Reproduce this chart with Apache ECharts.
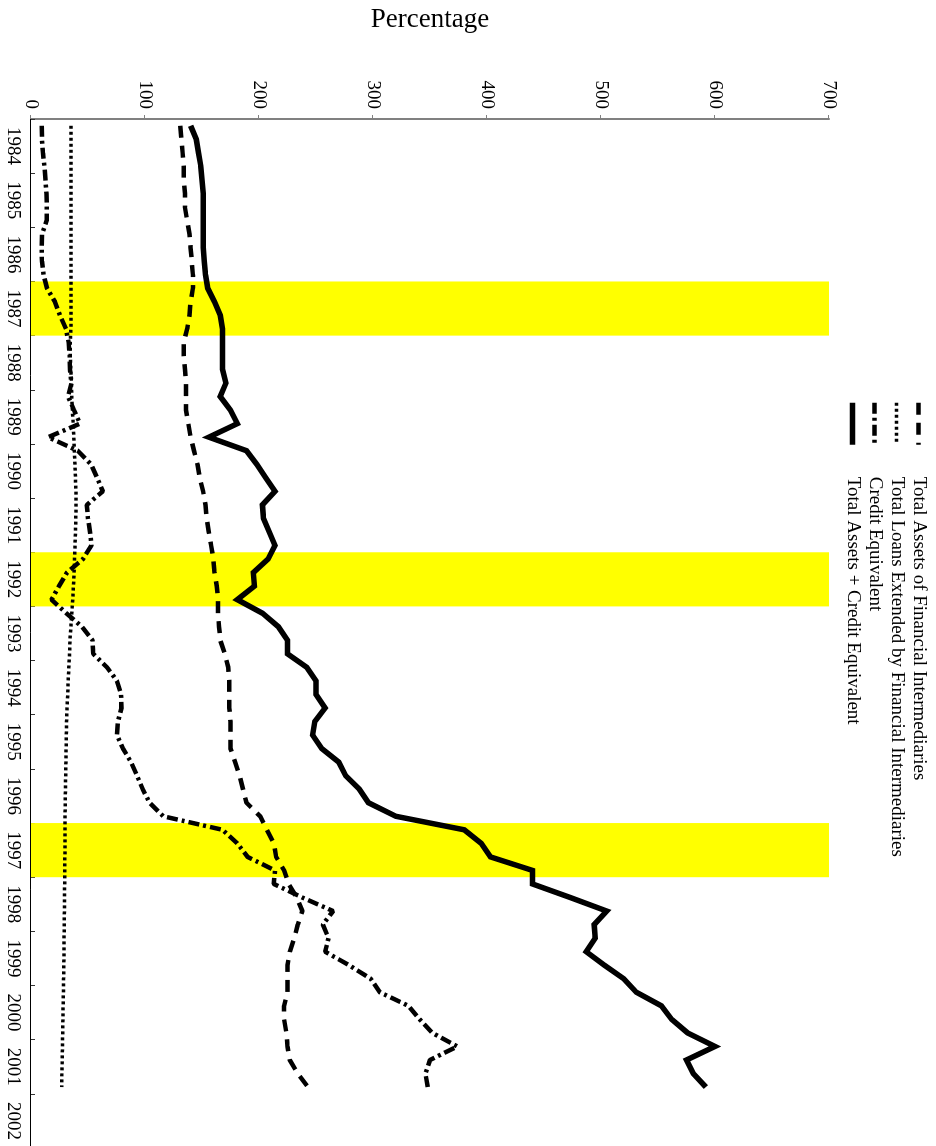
<!DOCTYPE html>
<html>
<head>
<meta charset="utf-8">
<script src="https://cdn.jsdelivr.net/npm/echarts@6/dist/echarts.min.js"></script>
<style>
html,body{margin:0;padding:0;background:#fff;overflow:hidden;width:936px;height:1146px;}
#wrap{position:absolute;left:0;top:0;width:1146px;height:936px;transform-origin:0 0;transform:translate(936px,0) rotate(90deg);}
</style>
</head>
<body>
<div id="wrap"></div>
<script>
// ---- data (quarterly, 1984Q1 .. 2001Q4) ----
const years = ['1984','1985','1986','1987','1988','1989','1990','1991','1992','1993','1994','1995','1996','1997','1998','1999','2000','2001','2002'];
const quarterNames = ['Q1','Q2','Q3','Q4'];
const crisisYears = ['1987','1992','1997'];
const valueTicks = [0,100,200,300,400,500,600,700];

const totalAssets = [
 131,132,133,134,134,135,135,137,139,140,141,142,
 142,140,139,137,134,134,135,136,136,136,138,140,
 143,146,148,151,153,154,156,158,160,161,163,164,
 164,165,166,170,173,174,174,174,175,175,175,179,
 183,186,189,201,207,213,215,222,226,233,238,234,
 231,227,225,225,225,222,222,224,225,227,234,243];

const totalLoans = [
 35,35,35,35,35,35,35,35,35,35,35,35,
 35,35,35,35,34.5,34.5,35,35.5,35.7,36.3,37,37.5,
 38,38.6,39,39.4,39.5,39.3,39,38.6,38.2,37.8,37.2,36.6,
 35.8,35,34.2,33.8,33.2,32.6,32.2,31.6,31.2,31,30.8,30.6,
 30.4,30.2,30,29.9,29.8,29.8,29.7,29.6,29.5,29.4,29.3,29.2,
 29,28.9,28.8,28.6,28.4,28.2,28,27.8,27.6,27.4,27.1,26.9];

const creditEquivalent = [
 9.4,9.6,10.5,11.8,12.7,13.6,13.8,13.8,9.6,9.4,9.6,11,
 14,21,25.4,30.7,33,34,34.2,35.5,32.5,37.7,43,15,
 41,52.6,58,63,49,50,51.8,53,45.6,31.6,24.6,18,
 31,44.7,54,54.6,66.7,75.4,79,79.4,76.3,75.4,80.7,87.7,
 93,98,104,116,168,181,190,214,213,238,265,256,
 261,258,279,298,306,331,341,352,374,350,346,348];

const totalPlusCredit = [
 140,145,147,149,150,151,151,151,151,151,152,153,
 155,161,166,168,168,168,168,171,166,175,181,156,
 189,198,206,214,203,204,209,214,208,195,196,181,
 203,217,225,225,242,250,250,258,249,247,255,270,
 276,288,296,320,380,395,403,440,440,473,505,494,
 495,487,503,520,531,553,562,576,600,575,581,592];

const seriesNames = [
 'Total Assets of Financial Intermediaries',
 'Total Loans Extended by Financial Intermediaries',
 'Credit Equivalent',
 'Total Assets + Credit Equivalent'];

// ---- derived ----
const quarters = [];
years.forEach(y => quarterNames.forEach(q => quarters.push(y + q)));
const bandData = years.map(y => crisisYears.indexOf(y) >= 0 ? valueTicks[valueTicks.length-1] : null);

const FONT = 'Liberation Serif';
const chart = echarts.init(document.getElementById('wrap'), null, {renderer:'canvas'});

function lineSeries(name, data, style, z){
  return {
    name, type:'line', xAxisIndex:1, yAxisIndex:0, data,
    symbol:'none', smooth:false, z,
    itemStyle:{color:'#000'},
    lineStyle: Object.assign({color:'#000', cap:'butt'}, style)
  };
}

chart.setOption({
  animation:false,
  backgroundColor:'#fff',
  grid:{left:119, top:107, width:1029, height:798, containLabel:false, outerBoundsMode:'none'},
  legend:{
    orient:'vertical', left:395, top:3,
    data:seriesNames,
    itemWidth:42, itemHeight:21, itemGap:3,
    itemStyle:{opacity:0},
    lineStyle:{width:'inherit'},
    textStyle:{fontFamily:FONT, fontSize:19, color:'#000', padding:[0,0,0,27]}
  },
  xAxis:[
    {type:'category', data:years, boundaryGap:true, position:'bottom',
     axisLine:{show:true, lineStyle:{color:'#000', width:1}},
     axisTick:{show:true, inside:true, length:4, lineStyle:{color:'#333'}},
     axisLabel:{fontFamily:FONT, fontSize:19, color:'#000', margin:9, interval:0},
     splitLine:{show:false}},
    {type:'category', data:quarters, boundaryGap:true, show:false}
  ],
  yAxis:[{
    type:'value', min:0, max:700, interval:100,
    name:'Percentage', nameLocation:'middle', nameGap:86,
    nameTextStyle:{fontFamily:FONT, fontSize:27, color:'#000'},
    axisLine:{show:true, lineStyle:{color:'#808080', width:2}},
    axisTick:{show:true, length:4, lineStyle:{color:'#808080'}},
    axisLabel:{fontFamily:FONT, fontSize:19, color:'#000', margin:10},
    splitLine:{show:false}
  }],
  series:[
    {name:'crisis', type:'bar', xAxisIndex:0, yAxisIndex:0, data:bandData,
     barWidth:'100%', silent:true, z:1, itemStyle:{color:'#ffff00'}},
    lineSeries(seriesNames[0], totalAssets, {width:4.5, type:[12,8]}, 5),
    lineSeries(seriesNames[1], totalLoans, {width:3.5, type:[3,3]}, 5),
    lineSeries(seriesNames[2], creditEquivalent, {width:4.5, type:[11,4,3,4]}, 5),
    lineSeries(seriesNames[3], totalPlusCredit, {width:5.5, join:'miter'}, 6)
  ]
});
</script>
</body>
</html>
